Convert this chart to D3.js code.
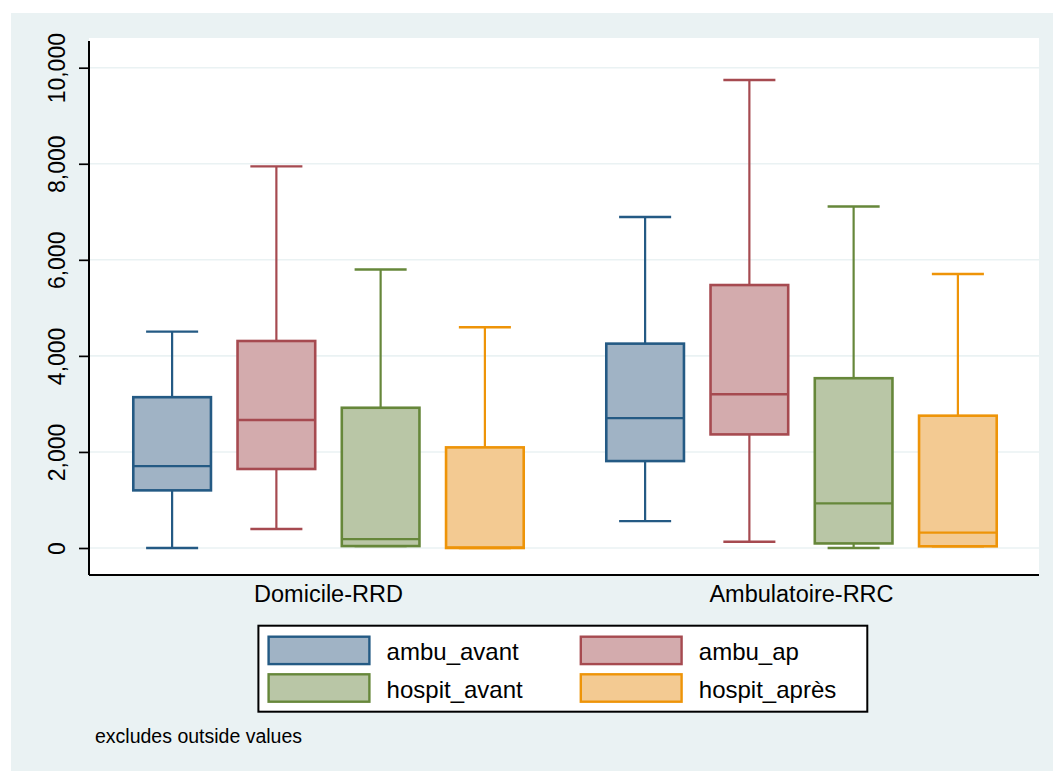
<!DOCTYPE html>
<html>
<head>
<meta charset="utf-8">
<script src="https://cdn.jsdelivr.net/npm/d3@7"></script>
<style>
  body { margin: 0; background: #ffffff; }
  svg { display: block; }
  text { font-family: "Liberation Sans", Arial, Helvetica, sans-serif; fill: #000; }
</style>
</head>
<body>
<div id="chart"></div>
<script>
// Groups on the x axis and the four variables boxed within each group
const categories = ["Domicile-RRD", "Ambulatoire-RRC"];
const seriesNames = ["ambu_avant", "ambu_ap", "hospit_avant", "hospit_après"];

// Five-number summaries per group: [lower adjacent, p25, median, p75, upper adjacent]
const ambuAvant   = [[0, 1200, 1705, 3140, 4505], [560, 1810, 2705, 4255, 6890]];
const ambuAp      = [[395, 1645, 2665, 4310, 7945], [130, 2365, 3200, 5475, 9745]];
const hospitAvant = [[40, 40, 185, 2920, 5800], [0, 95, 930, 3535, 7110]];
const hospitApres = [[0, 0, 10, 2095, 4595], [35, 35, 320, 2755, 5705]];

const yTicks = [0, 2000, 4000, 6000, 8000, 10000];
const noteText = "excludes outside values";

// Stata s2color-like styling
const strokeColors = ["#245a84", "#a64a50", "#66873a", "#ee9408"];
const fillColors   = ["#a0b3c5", "#d3abad", "#b9c6a6", "#f3ca92"];

const summaries = [ambuAvant, ambuAp, hospitAvant, hospitApres];

const W = 1053, H = 771;
const plot = { left: 89, right: 1039, top: 38, bottom: 575 };

const svg = d3.select("#chart").append("svg")
  .attr("width", W).attr("height", H);

// graph region background
svg.append("rect")
  .attr("x", 11).attr("y", 13)
  .attr("width", W - 11).attr("height", H - 13)
  .attr("fill", "#eaf2f3");

// plot region
svg.append("rect")
  .attr("x", plot.left).attr("y", plot.top)
  .attr("width", plot.right - plot.left).attr("height", plot.bottom - plot.top)
  .attr("fill", "#ffffff");

const y = d3.scaleLinear().domain([0, 10000]).range([548, 67.7]);

const x0 = d3.scaleBand().domain(categories).range([92, 1038]);
const x1 = d3.scaleBand().domain(seriesNames)
  .range([0, x0.bandwidth()])
  .paddingInner(0.255)
  .paddingOuter(0.396);

// gridlines
svg.append("g").selectAll("line").data(yTicks).join("line")
  .attr("x1", plot.left).attr("x2", plot.right)
  .attr("y1", d => y(d)).attr("y2", d => y(d))
  .attr("stroke", "#eaf2f3").attr("stroke-width", 1.6);

// y axis
const yAxis = d3.axisLeft(y).tickValues(yTicks).tickSize(10).tickFormat(d3.format(","));
const gy = svg.append("g").attr("transform", `translate(${plot.left},0)`).call(yAxis);
gy.select(".domain").remove();
gy.selectAll(".tick line").attr("stroke", "#000").attr("stroke-width", 1.7);
gy.selectAll(".tick text")
  .attr("x", null).attr("dy", null)
  .attr("transform", "translate(-24,0) rotate(-90)")
  .attr("text-anchor", "middle")
  .style("font-size", "23px");
svg.append("line")
  .attr("x1", plot.left).attr("x2", plot.left)
  .attr("y1", 41).attr("y2", plot.bottom)
  .attr("stroke", "#000").attr("stroke-width", 2);

// x axis line and group labels
svg.append("line")
  .attr("x1", plot.left).attr("x2", plot.right)
  .attr("y1", plot.bottom).attr("y2", plot.bottom)
  .attr("stroke", "#000").attr("stroke-width", 2.2);
svg.append("g").selectAll("text").data(categories).join("text")
  .attr("x", d => x0(d) + x0.bandwidth() / 2)
  .attr("y", 602)
  .attr("text-anchor", "middle")
  .style("font-size", "23.5px")
  .text(d => d);

// box plots
const boxes = [];
categories.forEach((cat, ci) => {
  seriesNames.forEach((s, si) => {
    const [lo, q1, med, q3, hi] = summaries[si][ci];
    boxes.push({ cat, s, si, lo, q1, med, q3, hi });
  });
});

const bw = x1.bandwidth();
const capHalf = bw * 0.335;
const g = svg.append("g");
const bx = g.selectAll("g.box").data(boxes).join("g").attr("class", "box")
  .attr("transform", d => `translate(${x0(d.cat) + x1(d.s)},0)`);

// whiskers
bx.append("line")
  .attr("x1", bw / 2).attr("x2", bw / 2)
  .attr("y1", d => y(d.q3)).attr("y2", d => y(d.hi))
  .attr("stroke", d => strokeColors[d.si]).attr("stroke-width", 2.2);
bx.append("line")
  .attr("x1", bw / 2).attr("x2", bw / 2)
  .attr("y1", d => y(d.q1)).attr("y2", d => y(d.lo))
  .attr("stroke", d => strokeColors[d.si]).attr("stroke-width", 2.2);
// caps
bx.append("line")
  .attr("x1", bw / 2 - capHalf).attr("x2", bw / 2 + capHalf)
  .attr("y1", d => y(d.hi)).attr("y2", d => y(d.hi))
  .attr("stroke", d => strokeColors[d.si]).attr("stroke-width", 2.4);
bx.append("line")
  .attr("x1", bw / 2 - capHalf).attr("x2", bw / 2 + capHalf)
  .attr("y1", d => y(d.lo)).attr("y2", d => y(d.lo))
  .attr("stroke", d => strokeColors[d.si]).attr("stroke-width", 2.4);
// interquartile box
bx.append("rect")
  .attr("x", 0).attr("width", bw)
  .attr("y", d => y(d.q3))
  .attr("height", d => y(d.q1) - y(d.q3))
  .attr("fill", d => fillColors[d.si])
  .attr("stroke", d => strokeColors[d.si]).attr("stroke-width", 2.6);
// median
bx.append("line")
  .attr("x1", 0).attr("x2", bw)
  .attr("y1", d => y(d.med)).attr("y2", d => y(d.med))
  .attr("stroke", d => strokeColors[d.si]).attr("stroke-width", 2.4);

// legend
const legend = svg.append("g");
legend.append("rect")
  .attr("x", 258.4).attr("y", 625.7)
  .attr("width", 608.9).attr("height", 86)
  .attr("fill", "#ffffff").attr("stroke", "#000").attr("stroke-width", 2);

const keyCol = d3.scaleOrdinal().domain([0, 1]).range([268.6, 580.8]);
const keyRow = d3.scaleOrdinal().domain([0, 1]).range([636.7, 674.3]);
const items = legend.selectAll("g.item").data(seriesNames).join("g").attr("class", "item")
  .attr("transform", (d, i) => `translate(${keyCol(i % 2)},${keyRow(Math.floor(i / 2))})`);
items.append("rect")
  .attr("x", 0).attr("y", 0).attr("width", 100.8).attr("height", 27.4)
  .attr("fill", (d, i) => fillColors[i])
  .attr("stroke", (d, i) => strokeColors[i]).attr("stroke-width", 2.4);
items.append("text")
  .attr("x", 118).attr("y", 23.5)
  .style("font-size", "24px")
  .text(d => d);

// note
svg.append("text")
  .attr("x", 95).attr("y", 743)
  .style("font-size", "19.5px")
  .text(noteText);
</script>
</body>
</html>
